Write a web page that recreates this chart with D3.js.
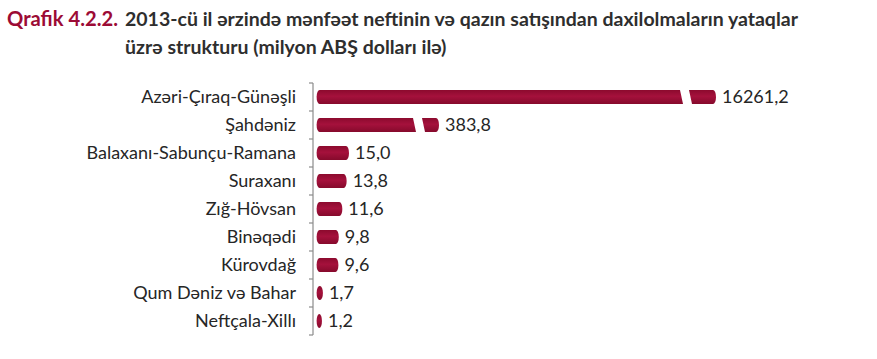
<!DOCTYPE html>
<html><head><meta charset="utf-8">
<script src="https://cdn.jsdelivr.net/npm/d3@7"></script>
<style>body{margin:0;background:#fff}svg{display:block}</style>
</head><body>
<svg id="c" width="877" height="359"></svg>
<script>
const categories = ["Azəri-Çıraq-Günəşli","Şahdəniz","Balaxanı-Sabunçu-Ramana","Suraxanı","Zığ-Hövsan","Binəqədi","Kürovdağ","Qum Dəniz və Bahar","Neftçala-Xillı"];
const values = [16261.2, 383.8, 15.0, 13.8, 11.6, 9.8, 9.6, 1.7, 1.2];
const valueLabels = ["16261,2","383,8","15,0","13,8","11,6","9,8","9,6","1,7","1,2"];
const titleLabel = "Qrafik 4.2.2.";
const titleLines = ["2013-cü il ərzində mənfəət neftinin və qazın satışından daxilolmaların yataqlar","üzrə strukturu (milyon ABŞ dolları ilə)"];

const svg = d3.select("#c");
const FONT = "Lato, 'Open Sans', sans-serif";
const RED = "#9c0b35";

const defs = svg.append("defs");
const g = defs.append("linearGradient").attr("id","bg").attr("x1",0).attr("y1",0).attr("x2",0).attr("y2",1);
g.append("stop").attr("offset","0%").attr("stop-color","#8c0a2e");
g.append("stop").attr("offset","45%").attr("stop-color","#a5113c");
g.append("stop").attr("offset","100%").attr("stop-color","#860a2c");

// title
svg.append("text").attr("x",7).attr("y",26).attr("font-family",FONT).attr("font-weight","bold").attr("font-size",20.2).attr("fill",RED).text(titleLabel);
svg.append("text").attr("x",125).attr("y",26).attr("font-family",FONT).attr("font-weight","bold").attr("font-size",19.5).attr("fill","#2e2e2e").text(titleLines[0]);
svg.append("text").attr("x",125).attr("y",54).attr("font-family",FONT).attr("font-weight","bold").attr("font-size",19.5).attr("fill","#2e2e2e").text(titleLines[1]);

// scales: broken (piecewise) value axis
const x = d3.scaleLinear().domain([0, 15, 383.8, 16261.2]).range([319.6, 349, 439, 716]);
const y = d3.scaleBand().domain(categories).range([83, 335]).paddingInner(0.5).paddingOuter(0.25);
const axisX = 313, cap = 3, breakAt = 15;
const breakTail = {"Azəri-Çıraq-Günəşli": 27, "Şahdəniz": 17};
const gapW = 9, slant = 3;

const ax = svg.append("g").attr("transform",`translate(${axisX},0)`)
  .call(d3.axisLeft(y).tickSize(0).tickPadding(17));
ax.select(".domain").remove();
ax.selectAll("text").attr("font-family",FONT).attr("font-size",18).attr("fill","#262626");
svg.append("line").attr("x1",axisX).attr("x2",axisX).attr("y1",y.range()[0]).attr("y2",y.range()[1]).attr("stroke","#8c8c8c").attr("stroke-width",1.2);
const step = y.step();
const bounds = d3.range(categories.length+1).map(i => y.range()[0] + i*step);
svg.selectAll(".tk").data(bounds).join("line").attr("x1",axisX-4).attr("x2",axisX).attr("y1",d=>d).attr("y2",d=>d).attr("stroke","#8c8c8c").attr("stroke-width",1.2);

function rounded(x0, x1, yt, h){
  const r = Math.min(cap, (x1-x0)/2), ry = h/2;
  return `M${x0+r},${yt} L${x1-r},${yt} A${r},${ry} 0 0 1 ${x1-r},${yt+h} L${x0+r},${yt+h} A${r},${ry} 0 0 1 ${x0+r},${yt} Z`;
}
const h = y.bandwidth();
const data = categories.map((c,i)=>({c, v:values[i], lab:valueLabels[i]}));
const bars = svg.append("g");
data.forEach(d=>{
  const yt = y(d.c), x0 = x(0)-cap, x1 = x(d.v);
  if (d.v > breakAt && breakTail[d.c]) {
    const gs = x1 - breakTail[d.c] - gapW;
    const r = cap, ry = h/2;
    bars.append("path").attr("fill","url(#bg)")
      .attr("d",`M${x0+r},${yt} L${gs},${yt} L${gs+slant},${yt+h} L${x0+r},${yt+h} A${r},${ry} 0 0 1 ${x0+r},${yt} Z`);
    bars.append("path").attr("fill","url(#bg)")
      .attr("d",`M${gs+gapW},${yt} L${x1-r},${yt} A${r},${ry} 0 0 1 ${x1-r},${yt+h} L${gs+gapW+slant},${yt+h} Z`);
  } else {
    bars.append("path").attr("fill","url(#bg)").attr("d",rounded(x0, x1, yt, h));
  }
  svg.append("text").attr("x",x1+6).attr("y",yt+h/2).attr("dy","0.36em")
    .attr("font-family",FONT).attr("font-size",18).attr("fill","#262626").text(d.lab);
});
</script>
</body></html>
